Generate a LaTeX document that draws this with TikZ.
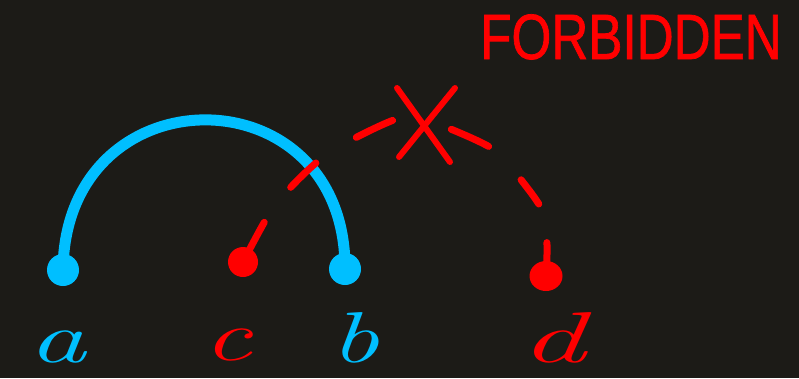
\documentclass[tikz,border=0pt]{standalone}
\usepackage{fontspec}
\usepackage{graphicx}
\usetikzlibrary{shapes.geometric}
\newfontfamily\headfont[FakeBold=1.2]{Liberation Sans}
\definecolor{bg}{HTML}{1C1B17}
\definecolor{sky}{HTML}{00BFFF}
\definecolor{rd}{HTML}{FF0000}
\tikzset{
  bluedot/.style={circle,fill=sky,inner sep=0pt,minimum size=32pt},
  reddot/.style={ellipse,fill=rd,inner sep=0pt,minimum width=30pt,minimum height=30pt},
  blueline/.style={draw=sky,line width=11pt,line cap=round},
  redline/.style={draw=rd,line width=7pt,line cap=round,
    dash pattern=on 45pt off 44pt on 35pt off 48pt on 40pt off 61pt on 41pt off 47pt on 30pt off 40pt on 60pt},
  xline/.style={draw=rd,line width=6pt,line cap=round},
  lab/.style={anchor=base,inner sep=0pt,font=\fontsize{72}{72}\selectfont\itshape},
  head/.style={anchor=base,inner sep=0pt,text=rd,font=\headfont\fontsize{64}{64}\selectfont}
}
\begin{document}
\begin{tikzpicture}[x=1pt,y=-1pt]
\useasboundingbox (0,0) rectangle (799,378);
\fill[bg] (0,0) rectangle (799,378);
% dot positions
\coordinate (a) at (63,270);
\coordinate (b) at (345,269);
\coordinate (c) at (243,262);
\coordinate (d) at (546,276);
% blue arc
\draw[blueline] (a) .. controls (65,70) and (346,70) .. (b);
% red dashed arc
\draw[redline] plot[smooth] coordinates {(c) (268,216) (291,187) (322,158) (357,137) (400,118) (425,121) (453,130) (496,151) (522,181) (543,212) (547,245) (d)};
% X
\draw[xline] (397,88) -- (450,162);
\draw[xline] (455,88) -- (399,157);
% dots
\node[bluedot] (da) at (a) {};
\node[bluedot] (db) at (b) {};
\node[reddot] (dc) at (c) {};
\node[reddot,minimum width=33pt] (dd) at (d) {};
% labels
\node[lab,text=sky] (la) at (57,362) {\scalebox{1.6}[1]{a}};
\node[lab,text=rd] (lc) at (228,360) {\scalebox{1.5}[1]{c}};
\node[lab,text=sky] (lb) at (355,362) {\scalebox{1.5}[1]{b}};
\node[lab,text=rd] (ld) at (553,362) {\scalebox{1.8}[1]{d}};
% heading
\node[head] (title) at (631,59) {\scalebox{0.8}[1]{FORBIDDEN}};
\end{tikzpicture}
\end{document}
